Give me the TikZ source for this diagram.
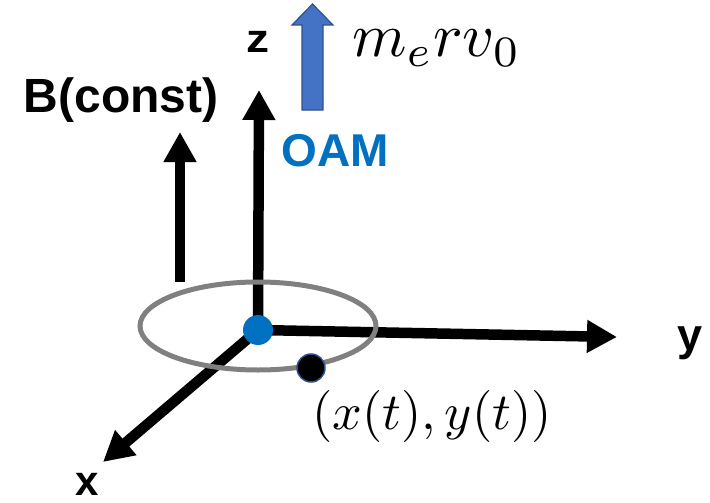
\documentclass[tikz,border=0pt]{standalone}
\usepackage{graphicx}
\usepackage{fontspec}
\newfontfamily\labfont{Liberation Sans}
\usetikzlibrary{arrows.meta}
\definecolor{oamblue}{HTML}{0070C0}
\definecolor{arrfill}{HTML}{4472C4}
\definecolor{arrline}{HTML}{2F528F}
\definecolor{orbit}{HTML}{808080}
\begin{document}
\begin{tikzpicture}[x=1pt,y=-1pt,
  axis/.style={line width=10.5pt,-{Triangle[length=30pt,width=31pt]}},
  lbl/.style={inner sep=0pt,font=\labfont\bfseries},
  mathlbl/.style={inner sep=0pt}]
\useasboundingbox (0,0) rectangle (710,503);
\coordinate (O) at (258,330);
\coordinate (zt) at (259,90);
\coordinate (yt) at (617,337);
\coordinate (xt) at (103,462);
\coordinate (bb) at (180,282);
\coordinate (bt) at (180,132);
% axes
\draw[axis] (O) -- (zt);
\draw[axis] (O) -- (yt);
\draw[axis] (O) -- (xt);
% B field arrow
\draw[axis] (bb) -- (bt);
% orbit
\draw[orbit, line width=5pt] (258,326) ellipse [x radius=118, y radius=44];
% dots
\node[circle, fill=oamblue, minimum size=30pt, inner sep=0pt] (od) at (O) {};
\node[circle, fill=black, draw=arrline, line width=1.5pt, minimum size=28pt, inner sep=0pt] (pd) at (311,368) {};
% OAM block arrow
\filldraw[fill=arrfill, draw=arrline, line width=1.2pt, line join=miter]
  (302,110) -- (302,25) -- (292,25) -- (312.5,4) -- (333,25) -- (323,25) -- (323,110) -- cycle;
% labels
\node[lbl, font=\labfont\bfseries\fontsize{40}{44}\selectfont, xscale=1.15, anchor=base] (zl) at (258,53) {z};
\node[lbl, font=\labfont\bfseries\fontsize{45}{50}\selectfont, anchor=base] (yl) at (690,350) {y};
\node[lbl, font=\labfont\bfseries\fontsize{42}{48}\selectfont, anchor=base] (xl) at (87,495) {x};
\node[lbl, font=\labfont\bfseries\fontsize{48}{54}\selectfont, anchor=base] (bl) at (121,112) {B(const)};
\node[lbl, font=\labfont\bfseries\fontsize{46}{52}\selectfont, text=oamblue, anchor=base] (oam) at (335,166) {OAM};
\node[mathlbl, anchor=base west] (mr) at (352,57) {\scalebox{6.2}{$m_e r v_0$}};
\node[mathlbl, anchor=base] (pos) at (432,429) {\scalebox{5.2}{$(x(t),y(t))$}};
\end{tikzpicture}
\end{document}
